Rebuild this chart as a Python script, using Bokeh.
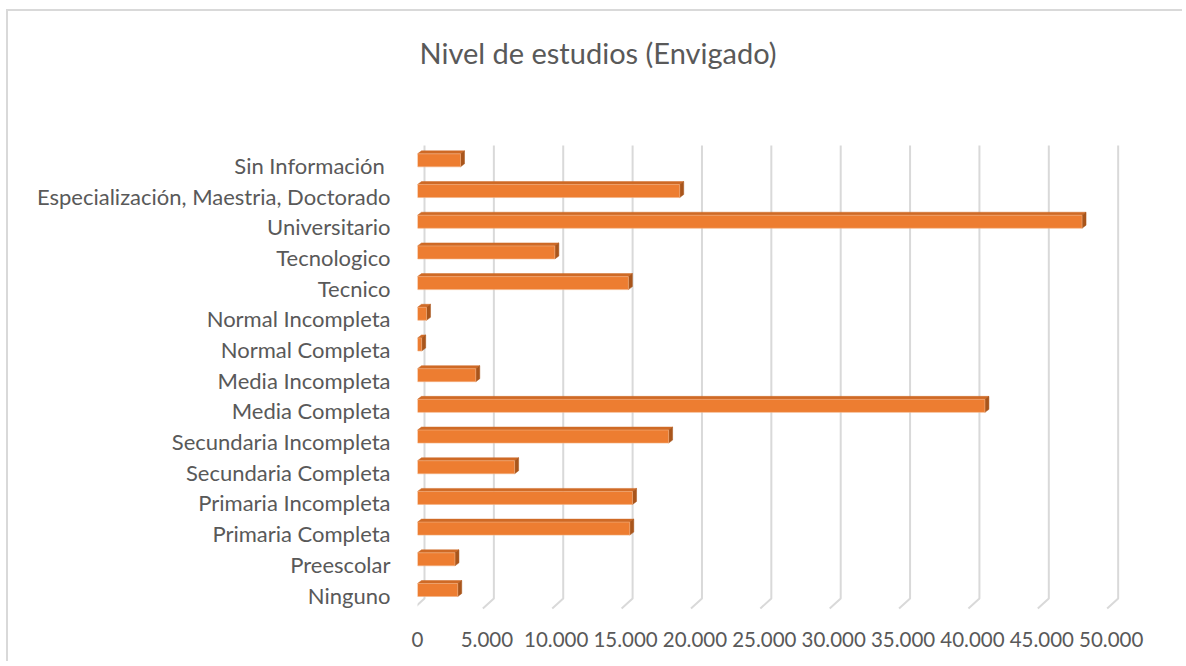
from bokeh.plotting import figure
from bokeh.models import Range1d, FixedTicker
from bokeh.core.properties import value
from bokeh.embed import file_html
from bokeh.resources import INLINE

# ---------------- data ----------------
categories = [
    "Ninguno", "Preescolar", "Primaria Completa", "Primaria Incompleta",
    "Secundaria Completa", "Secundaria Incompleta", "Media Completa",
    "Media Incompleta", "Normal Completa", "Normal Incompleta", "Tecnico",
    "Tecnologico", "Universitario", "Especialización, Maestria, Doctorado",
    "Sin Información ",
]
values = [2900, 2700, 15300, 15500, 7000, 18100, 40900, 4200, 300, 650,
          15200, 9900, 47900, 18900, 3100]
x_ticks = [0, 5000, 10000, 15000, 20000, 25000, 30000, 35000, 40000, 45000, 50000]
x_tick_labels = ["0", "5.000", "10.000", "15.000", "20.000", "25.000",
                 "30.000", "35.000", "40.000", "45.000", "50.000"]
title_text = "Nivel de estudios (Envigado)"

# ---------------- layout ----------------
W, H = 1176, 652
PAGE_X0, PAGE_Y0 = 8, 11            # canvas origin on the page
ML, MT = 409, 0
FW, FH = 745, 599
MR, MB = W - ML - FW, H - MT - FH
XMAX = 53700
ppx = FW / XMAX                      # pixels per data unit (x)
ppy = 470 / 15.315                   # pixels per category step (y)
Y0_PAGE = 594.5                      # page y of category index 0
Y_LO = (Y0_PAGE - (PAGE_Y0 + MT + FH)) / ppy
Y_HI = (Y0_PAGE - (PAGE_Y0 + MT)) / ppy
X0_PAGE = PAGE_X0 + ML               # page x of value 0

def dxp(px):
    return px / ppx

def dyp(px):
    return px / ppy

def page_y(py):
    return (Y0_PAGE - py) / ppy

FONT = "Lato"
TXT = "#595959"
GRID = "#D9D9D9"
FRONT = "#ED7D31"
TOP = "#CF6A26"
SIDE = "#A9551B"

p = figure(width=W, height=H, output_backend="svg", toolbar_location=None,
           x_range=Range1d(0, XMAX), y_range=Range1d(Y_LO, Y_HI),
           min_border_left=ML, min_border_right=MR,
           min_border_top=MT, min_border_bottom=MB)
p.styles = {"margin-left": "6px", "margin-top": "9px",
            "border-left": "2px solid #D9D9D9", "border-top": "2px solid #D9D9D9"}
p.outline_line_color = None
p.xgrid.grid_line_color = None
p.ygrid.grid_line_color = None
p.background_fill_color = "white"
p.border_fill_color = "white"

# ---- 3D gridlines (back wall + floor edge) ----
y_top, y_corner, y_bot = page_y(145), page_y(598), page_y(608)
gxs = [[t + dxp(7), t + dxp(7), t - dxp(4)] for t in x_ticks]
gys = [[y_top, y_corner, y_bot] for _ in x_ticks]
p.multi_line(gxs, gys, line_color=GRID, line_width=2)

# ---- 3D bars ----
idx = list(range(len(categories)))
bh = dyp(13)
yc = [i + dyp(5) for i in idx]
ddx, ddy = dxp(4), dyp(3)

top_xs, top_ys, side_xs, side_ys = [], [], [], []
for y, v in zip(yc, values):
    yt, yb = y + bh / 2, y - bh / 2
    top_xs.append([0, v, v + ddx, ddx])
    top_ys.append([yt, yt, yt + ddy, yt + ddy])
    side_xs.append([v, v + ddx, v + ddx, v])
    side_ys.append([yb, yb + ddy, yt + ddy, yt])

p.patches(top_xs, top_ys, fill_color=TOP, line_color=TOP, line_width=0.5)
p.patches(side_xs, side_ys, fill_color=SIDE, line_color=SIDE, line_width=0.5)
p.hbar(y=yc, height=bh, left=0, right=values, fill_color=FRONT,
       line_color="#F4B183", line_width=0.6)

# ---- axes ----
p.xaxis.ticker = FixedTicker(ticks=x_ticks)
p.xaxis.major_label_overrides = {t: l for t, l in zip(x_ticks, x_tick_labels)}
p.xaxis.axis_line_color = None
p.xaxis.major_tick_line_color = None
p.xaxis.minor_tick_line_color = None
p.xaxis.major_label_standoff = 15
p.xaxis.major_label_text_font = FONT
p.xaxis.major_label_text_font_size = "20.5px"
p.xaxis.major_label_text_color = TXT

p.yaxis.ticker = FixedTicker(ticks=idx)
p.yaxis.major_label_overrides = {i: c for i, c in zip(idx, categories)}
p.yaxis.axis_line_color = None
p.yaxis.major_tick_line_color = None
p.yaxis.minor_tick_line_color = None
p.yaxis.major_label_standoff = 21
p.yaxis.major_label_text_font = FONT
p.yaxis.major_label_text_font_size = "22px"
p.yaxis.major_label_text_color = TXT

# ---- title (inside the tall frame, above the plot area) ----
p.text(x=[dxp(597.5 - X0_PAGE)], y=[page_y(52)], text=[title_text],
       text_align="center", text_baseline="alphabetic",
       text_font=value(FONT), text_font_size="29px", text_color=TXT)

open("out.html", "w").write(file_html(p, INLINE))
